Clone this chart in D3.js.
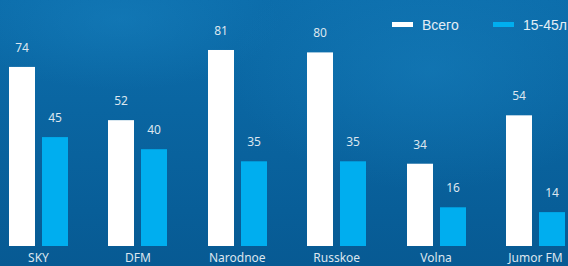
<!DOCTYPE html>
<html>
<head>
<meta charset="utf-8">
<script src="https://cdn.jsdelivr.net/npm/d3@7"></script>
<style>
  html, body { margin: 0; padding: 0; background: #0a64a0; }
  svg { display: block; }
</style>
</head>
<body>
<svg width="568" height="266"></svg>
<script>
var stations = ["SKY", "DFM", "Narodnoe", "Russkoe", "Volna", "Jumor FM"];
var total = [74, 52, 81, 80, 34, 54];
var young = [45, 40, 35, 35, 16, 14];
var seriesNames = ["Всего", "15-45л"];

var svg = d3.select("svg");
var width = +svg.attr("width");
var height = +svg.attr("height");

var colors = ["#ffffff", "#00aeef"];

// background
var defs = svg.append("defs");
var bg = defs.append("linearGradient")
    .attr("id", "bg")
    .attr("x1", 0).attr("y1", 0).attr("x2", 0).attr("y2", 1);
bg.append("stop").attr("offset", "0%").attr("stop-color", "#0c6dab");
bg.append("stop").attr("offset", "100%").attr("stop-color", "#075a93");

var glow = defs.append("radialGradient").attr("id", "glow");
glow.append("stop").attr("offset", "0%").attr("stop-color", "#1a86c4").attr("stop-opacity", 0.4);
glow.append("stop").attr("offset", "100%").attr("stop-color", "#1a86c4").attr("stop-opacity", 0);

svg.append("rect")
    .attr("width", width)
    .attr("height", height)
    .style("fill", "url(#bg)");

svg.append("ellipse")
    .attr("cx", 430).attr("cy", 70).attr("rx", 200).attr("ry", 120)
    .style("fill", "url(#glow)");
svg.append("ellipse")
    .attr("cx", 120).attr("cy", 20).attr("rx", 160).attr("ry", 70)
    .style("fill", "url(#glow)");

var x0 = d3.scaleBand()
    .domain(stations)
    .range([-11.2, 585.2])
    .padding(0);

var x1 = d3.scaleBand()
    .domain([0, 1])
    .range([0, 59])
    .paddingInner(7 / 33)
    .paddingOuter(0);

var y = d3.scaleLinear()
    .domain([0, 100])
    .range([246, 4]);

var rows = stations.map(function (s, i) {
    return { name: s, values: [total[i], young[i]] };
});

var groups = svg.append("g").selectAll("g")
    .data(rows)
    .enter().append("g")
    .attr("transform", function (d) {
        return "translate(" + Math.round(x0(d.name) + x0.bandwidth() / 2 - 29.5) + ",0)";
    });

groups.selectAll("rect")
    .data(function (d) { return d.values; })
    .enter().append("rect")
    .attr("x", function (d, i) { return x1(i); })
    .attr("y", function (d) { return y(d); })
    .attr("width", x1.bandwidth())
    .attr("height", function (d) { return y(0) - y(d); })
    .style("fill", function (d, i) { return colors[i]; });

groups.selectAll("text.val")
    .data(function (d) { return d.values; })
    .enter().append("text")
    .attr("class", "val")
    .attr("x", function (d, i) { return x1(i) + x1.bandwidth() / 2; })
    .attr("y", function (d) { return y(d) - 15; })
    .attr("text-anchor", "middle")
    .style("font-family", "'Noto Sans', sans-serif")
    .style("font-size", "12px")
    .style("fill", "#dce6ef")
    .text(function (d) { return d; });

svg.append("g").selectAll("text")
    .data(stations)
    .enter().append("text")
    .attr("x", function (d) { return x0(d) + x0.bandwidth() / 2; })
    .attr("y", 262)
    .attr("text-anchor", "middle")
    .style("font-family", "'Noto Sans', sans-serif")
    .style("font-size", "12px")
    .style("fill", "#dce6ef")
    .text(function (d) { return d; });

// legend
var legend = svg.append("g").selectAll("g")
    .data(seriesNames)
    .enter().append("g")
    .attr("transform", function (d, i) { return "translate(" + (392 + i * 101) + ",22)"; });

legend.append("rect")
    .attr("width", 21)
    .attr("height", 5)
    .style("fill", function (d, i) { return colors[i]; });

legend.append("text")
    .attr("x", 30)
    .attr("y", 8)
    .style("font-family", "'Liberation Sans', Arial, sans-serif")
    .style("font-size", "14px")
    .style("fill", "#e4edf5")
    .text(function (d) { return d; });
</script>
</body>
</html>
